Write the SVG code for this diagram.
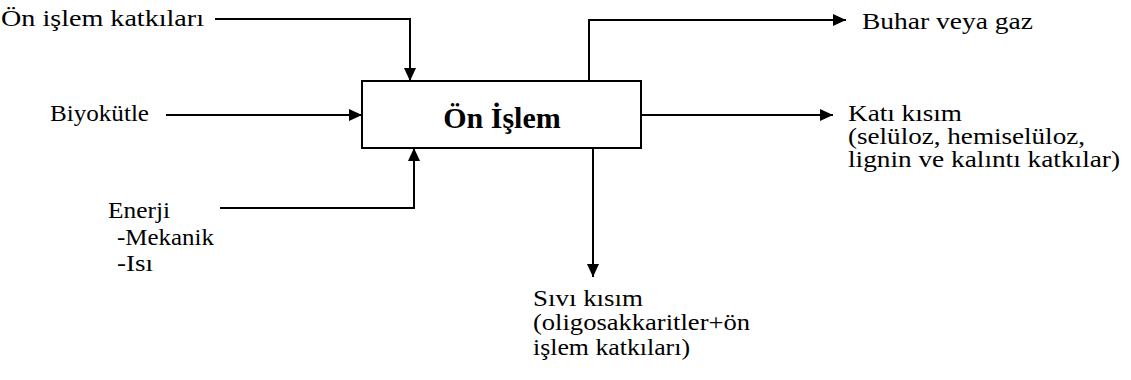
<svg xmlns="http://www.w3.org/2000/svg" width="1131" height="380" viewBox="0 0 1131 380">
  <style>
    .lbl { font-family: "Liberation Serif", "DejaVu Serif", "Noto Serif", serif; font-size: 24px; fill: #000; }
    .title { font-family: "Liberation Serif", "DejaVu Serif", serif; font-size: 30px; font-weight: bold; fill: #000; }
    .conn { fill: none; stroke: #000; stroke-width: 2; marker-end: url(#arrow); }
    .box { fill: #fff; stroke: #000; stroke-width: 2; }
  </style>
  <defs>
    <marker id="arrow" markerUnits="userSpaceOnUse" markerWidth="13" markerHeight="12" refX="13" refY="6" orient="auto">
      <path d="M0,0 L13,6 L0,12 Z" fill="#000"/>
    </marker>
  </defs>
  <rect width="1131" height="380" fill="#fff"/>

  <!-- connectors -->
  <g id="connectors">
    <polyline class="conn" points="215,19 410,19 410,81"/>
    <polyline class="conn" points="166,115 362,115"/>
    <polyline class="conn" points="220,208 414,208 414,148"/>
    <polyline class="conn" points="589,81 589,20 846,20"/>
    <polyline class="conn" points="641,115 833,115"/>
    <polyline class="conn" points="593,148 593,277"/>
  </g>

  <!-- central process -->
  <g id="process">
    <rect class="box" x="362" y="81" width="279" height="67"/>
    <text class="title" x="502" y="128" text-anchor="middle">Ön İşlem</text>
  </g>

  <!-- inputs -->
  <g id="additives">
    <text class="lbl" x="1" y="26" textLength="203" lengthAdjust="spacingAndGlyphs">Ön işlem katkıları</text>
  </g>
  <g id="biomass">
    <text class="lbl" x="50" y="121" textLength="99" lengthAdjust="spacingAndGlyphs">Biyokütle</text>
  </g>
  <g id="energy">
    <text class="lbl" x="108" y="218" textLength="62" lengthAdjust="spacingAndGlyphs">Enerji</text>
    <text class="lbl" x="117" y="245" textLength="97" lengthAdjust="spacingAndGlyphs">-Mekanik</text>
    <text class="lbl" x="117" y="271" textLength="36" lengthAdjust="spacingAndGlyphs">-Isı</text>
  </g>

  <!-- outputs -->
  <g id="vapour">
    <text class="lbl" x="862" y="29" textLength="171" lengthAdjust="spacingAndGlyphs">Buhar veya gaz</text>
  </g>
  <g id="solid">
    <text class="lbl" x="848" y="121" textLength="114" lengthAdjust="spacingAndGlyphs">Katı kısım</text>
    <text class="lbl" x="848" y="144" textLength="237" lengthAdjust="spacingAndGlyphs">(selüloz, hemiselüloz,</text>
    <text class="lbl" x="848" y="167" textLength="272" lengthAdjust="spacingAndGlyphs">lignin ve kalıntı katkılar)</text>
  </g>
  <g id="liquid">
    <text class="lbl" x="533" y="306" textLength="110" lengthAdjust="spacingAndGlyphs">Sıvı kısım</text>
    <text class="lbl" x="533" y="330" textLength="217" lengthAdjust="spacingAndGlyphs">(oligosakkaritler+ön</text>
    <text class="lbl" x="533" y="355" textLength="157" lengthAdjust="spacingAndGlyphs">işlem katkıları)</text>
  </g>
</svg>
